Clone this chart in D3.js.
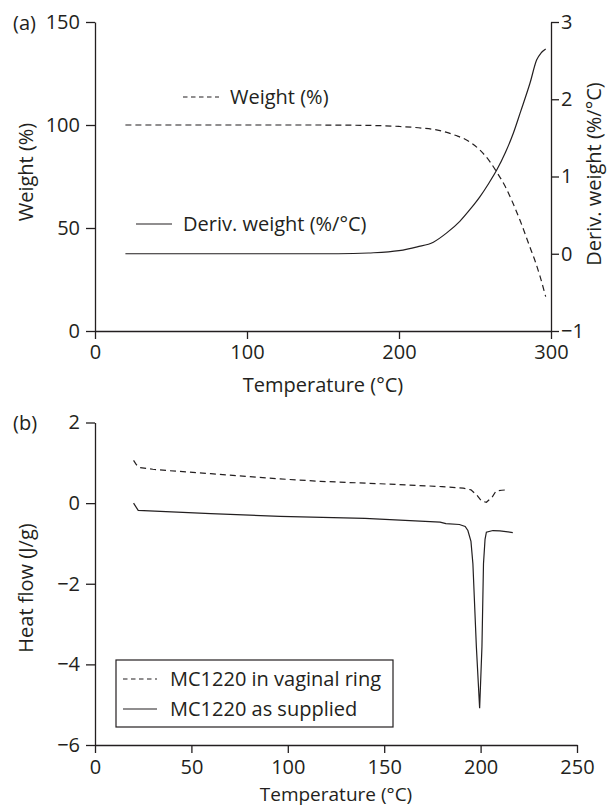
<!DOCTYPE html>
<html>
<head>
<meta charset="utf-8">
<script src="https://cdn.jsdelivr.net/npm/d3@7"></script>
<style>
  body { margin: 0; background: #fff; }
  svg text { font-family: "Open Sans", "Noto Sans", sans-serif; font-size: 20px; fill: #231f20; }
</style>
</head>
<body>
<div id="chart"></div>
<script>
// (a) TGA data
var tgaTemp = [20, 60, 100, 140, 180, 200, 215, 227, 237, 245, 253, 260, 264, 270, 275, 280, 286, 290, 293, 296.5];
var tgaWeight = [100, 100, 100, 100, 99.8, 99.3, 98.5, 97.3, 95, 92.5, 88, 82, 77.5, 70, 62, 53, 41, 33, 26, 16.7];
var derivTemp = [20, 100, 160, 180, 200, 212, 222.6, 231.4, 240, 247, 253.3, 259, 264.2, 270, 275.2, 280, 286.2, 290.6, 293.5, 296.5];
var derivWeight = [0, 0, 0, 0.01, 0.04, 0.09, 0.15, 0.27, 0.42, 0.58, 0.74, 0.91, 1.08, 1.31, 1.56, 1.84, 2.21, 2.51, 2.6, 2.65];
var tgaXTicks = [0, 100, 200, 300];
var tgaYTicks = [0, 50, 100, 150];
var tgaY2Ticks = [-1, 0, 1, 2, 3];

// (b) DSC data
var ringTemp = [20, 21.5, 23.3, 30, 37, 60, 96, 117, 148, 180, 191, 195, 198, 200.5, 203, 206, 208, 211, 214];
var ringFlow = [1.06, 0.95, 0.88, 0.84, 0.81, 0.73, 0.6, 0.54, 0.48, 0.41, 0.37, 0.33, 0.2, 0.05, 0.02, 0.15, 0.3, 0.32, 0.33];
var suppTemp = [20, 22.4, 60, 96, 140, 179, 182, 189, 192, 193.4, 195, 196, 197.8, 199.5, 200.7, 201.5, 202.3, 203, 206.4, 210, 216.7];
var suppFlow = [0, -0.18, -0.26, -0.33, -0.38, -0.47, -0.51, -0.53, -0.58, -0.68, -0.95, -1.5, -3.56, -5.09, -3.56, -1.5, -0.9, -0.72, -0.68, -0.69, -0.73];
var dscXTicks = [0, 50, 100, 150, 200, 250];
var dscYTicks = [-6, -4, -2, 0, 2];
var dscLegend = ["MC1220 in vaginal ring", "MC1220 as supplied"];

var ink = "#231f20";
var dash = "6,4";

var svg = d3.select("#chart").append("svg")
  .attr("width", 608).attr("height", 806);

function styleAxis(g) {
  g.selectAll("path, line").attr("stroke", ink).attr("stroke-width", 1.3);
  g.selectAll("text").attr("fill", ink).style("font-size", "20px");
}

function minus(d) { return d < 0 ? "\u2212" + Math.abs(d) : d; }

function zip(a, b) { return a.map(function(d, i) { return [d, b[i]]; }); }

// ---------- (a) ----------
var x1 = d3.scaleLinear().domain([0, 300]).range([95, 551]);
var y1 = d3.scaleLinear().domain([0, 150]).range([331, 22]);
var y1r = d3.scaleLinear().domain([-1, 3]).range([331, 22]);

svg.append("g").attr("transform", "translate(0,331)")
  .call(d3.axisBottom(x1).tickValues(tgaXTicks).tickSize(8).tickPadding(6).tickSizeOuter(0))
  .call(styleAxis);
svg.append("g").attr("transform", "translate(95,0)")
  .call(d3.axisLeft(y1).tickValues(tgaYTicks).tickSize(9).tickPadding(6).tickSizeOuter(0))
  .call(styleAxis);
svg.append("g").attr("transform", "translate(551,0)")
  .call(d3.axisRight(y1r).tickValues(tgaY2Ticks).tickSize(8).tickPadding(2).tickSizeOuter(0)
    .tickFormat(minus))
  .call(styleAxis);

var lineW = d3.line().x(function(d) { return x1(d[0]); }).y(function(d) { return y1(d[1]); }).curve(d3.curveMonotoneX);
var lineD = d3.line().x(function(d) { return x1(d[0]); }).y(function(d) { return y1r(d[1]); }).curve(d3.curveMonotoneX);

svg.append("path").datum(zip(tgaTemp, tgaWeight))
  .attr("d", lineW).attr("fill", "none").attr("stroke", ink).attr("stroke-width", 1.2).attr("stroke-dasharray", dash);
svg.append("path").datum(zip(derivTemp, derivWeight))
  .attr("d", lineD).attr("fill", "none").attr("stroke", ink).attr("stroke-width", 1.2);

// labels inside (a)
var aLabels = [
  {text: "Weight (%)", x: 183, y: 97, dash: true},
  {text: "Deriv. weight (%/\u00B0C)", x: 136, y: 224, dash: false}
];
aLabels.forEach(function(l) {
  svg.append("line").attr("x1", l.x).attr("x2", l.x + 36).attr("y1", l.y).attr("y2", l.y)
    .attr("stroke", ink).attr("stroke-width", 1.2).attr("stroke-dasharray", l.dash ? "4.5,3.5" : null);
  svg.append("text").attr("x", l.x + 47).attr("y", l.y).attr("dy", "0.35em").text(l.text);
});

svg.append("text").attr("x", 13).attr("y", 23).attr("dy", "0.35em").text("(a)");
svg.append("text").attr("transform", "translate(26,172) rotate(-90)").attr("text-anchor", "middle")
  .attr("dy", "0.35em").text("Weight (%)");
svg.append("text").attr("transform", "translate(594,174) rotate(-90)").attr("text-anchor", "middle")
  .attr("dy", "0.35em").text("Deriv. weight (%/\u00B0C)");
svg.append("text").attr("x", 323).attr("y", 392).attr("text-anchor", "middle").text("Temperature (\u00B0C)");

// ---------- (b) ----------
var x2 = d3.scaleLinear().domain([0, 250]).range([95, 577]);
var y2 = d3.scaleLinear().domain([-6, 2]).range([745, 422.5]);

svg.append("g").attr("transform", "translate(0,745)")
  .call(d3.axisBottom(x2).tickValues(dscXTicks).tickSize(8).tickPadding(7).tickSizeOuter(0))
  .call(styleAxis);
svg.append("g").attr("transform", "translate(95,0)")
  .call(d3.axisLeft(y2).tickValues(dscYTicks).tickSize(9).tickPadding(6).tickSizeOuter(0)
    .tickFormat(minus))
  .call(styleAxis);

var lineH = d3.line().x(function(d) { return x2(d[0]); }).y(function(d) { return y2(d[1]); });

svg.append("path").datum(zip(ringTemp, ringFlow))
  .attr("d", lineH).attr("fill", "none").attr("stroke", ink).attr("stroke-width", 1.2).attr("stroke-dasharray", dash);
svg.append("path").datum(zip(suppTemp, suppFlow))
  .attr("d", lineH).attr("fill", "none").attr("stroke", ink).attr("stroke-width", 1.2);

svg.append("text").attr("x", 13).attr("y", 423).attr("dy", "0.35em").text("(b)");
svg.append("text").attr("transform", "translate(26,588) rotate(-90)").attr("text-anchor", "middle")
  .attr("dy", "0.35em").text("Heat flow (J/g)");
svg.append("text").attr("x", 336).attr("y", 801).attr("text-anchor", "middle")
  .style("font-size", "19px").text("Temperature (\u00B0C)");

// legend (b)
var leg = svg.append("g").attr("transform", "translate(116,660)");
leg.append("rect").attr("width", 277).attr("height", 67)
  .attr("fill", "#fff").attr("stroke", ink).attr("stroke-width", 1.2);
var items = leg.selectAll(".legend").data(dscLegend).enter().append("g").attr("class", "legend")
  .attr("transform", function(d, i) { return "translate(0," + (19 + i * 30) + ")"; });
items.append("line").attr("x1", 7).attr("x2", 41).attr("y1", 0).attr("y2", 0)
  .attr("stroke", ink).attr("stroke-width", 1.2)
  .attr("stroke-dasharray", function(d, i) { return i === 0 ? "4.5,3.5" : null; });
items.append("text").attr("x", 54).attr("dy", "0.35em").text(function(d) { return d; });
</script>
</body>
</html>
